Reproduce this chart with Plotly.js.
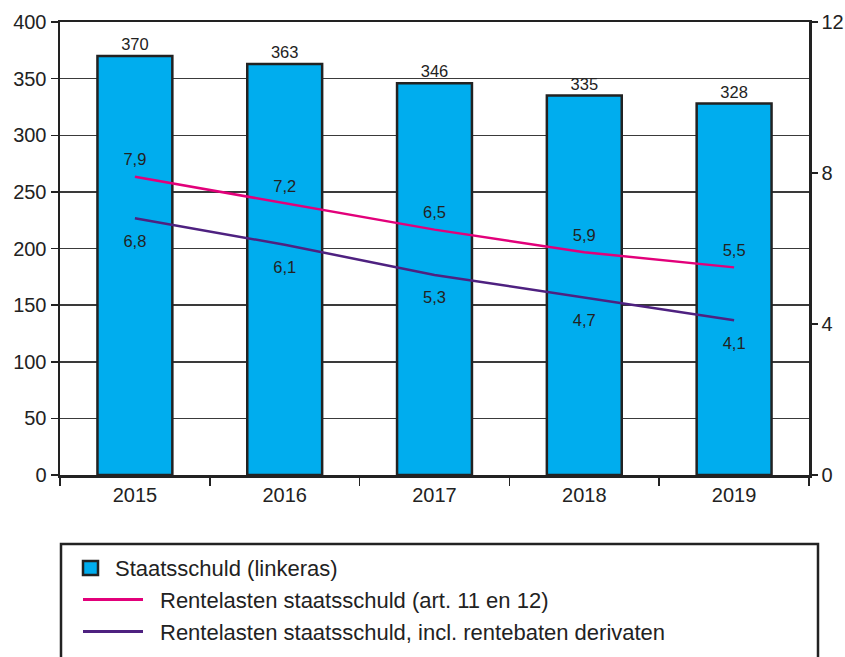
<!DOCTYPE html>
<html>
<head>
<meta charset="utf-8">
<script src="https://cdn.plot.ly/plotly-3.0.1.min.js"></script>
<style>
  html, body { margin: 0; padding: 0; background: #fff; }
  #chart { width: 845px; height: 657px; }
</style>
</head>
<body>
<div id="chart"></div>
<script>
// ---- data ----
const years = ['2015', '2016', '2017', '2018', '2019'];
const staatsschuld = [370, 363, 346, 335, 328];
const rentelasten = [7.9, 7.2, 6.5, 5.9, 5.5];
const rentelastenInclDerivaten = [6.8, 6.1, 5.3, 4.7, 4.1];
const seriesNames = [
  'Staatsschuld (linkeras)',
  'Rentelasten staatsschuld (art. 11 en 12)',
  'Rentelasten staatsschuld, incl. rentebaten derivaten'
];
const leftTicks = [0, 50, 100, 150, 200, 250, 300, 350, 400];
const rightTicks = [0, 4, 8, 12];

// ---- style ----
const FONT = 'Liberation Sans, Arial, Helvetica, sans-serif';
const INK = '#222222';
const CYAN = '#00ADEE';
const PINK = '#E2007A';
const PURPLE = '#4E2180';
const fmt = v => v.toFixed(1).replace('.', ',');

const traces = [
  {
    type: 'bar', name: seriesNames[0], x: years, y: staatsschuld,
    marker: { color: CYAN, line: { color: INK, width: 2.5 } },
    text: staatsschuld.map(String), textposition: 'outside',
    textfont: { family: FONT, size: 16.5, color: INK },
    cliponaxis: false, showlegend: false
  },
  {
    type: 'scatter', mode: 'lines+markers+text', name: seriesNames[1], x: years, y: rentelasten,
    yaxis: 'y2', line: { color: PINK, width: 2.5 },
    marker: { size: 10, color: 'rgba(0,0,0,0)' },
    text: rentelasten.map(fmt), textposition: 'top center',
    textfont: { family: FONT, size: 16.5, color: INK },
    cliponaxis: false, showlegend: false
  },
  {
    type: 'scatter', mode: 'lines+markers+text', name: seriesNames[2], x: years, y: rentelastenInclDerivaten,
    yaxis: 'y2', line: { color: PURPLE, width: 2.5 },
    marker: { size: 24, color: 'rgba(0,0,0,0)' },
    text: rentelastenInclDerivaten.map(fmt), textposition: 'bottom center',
    textfont: { family: FONT, size: 16.5, color: INK },
    cliponaxis: false, showlegend: false
  }
];

// custom legend box (paper coordinates; plot area spans 749 x 453 px)
const W = 749, H = 453;
const px = x => (x - 60) / W;
const py = y => (475 - y) / H;

const shapes = [
  { type: 'rect', xref: 'paper', yref: 'paper', x0: px(61), x1: px(818), y0: py(720), y1: py(544),
    line: { color: INK, width: 2.5 }, fillcolor: 'rgba(0,0,0,0)' },
  { type: 'rect', xref: 'paper', yref: 'paper', x0: px(83), x1: px(98), y0: py(575), y1: py(561),
    line: { color: INK, width: 2.5 }, fillcolor: CYAN },
  { type: 'line', xref: 'paper', yref: 'paper', x0: px(83), x1: px(143), y0: py(599.5), y1: py(599.5),
    line: { color: PINK, width: 3 } },
  { type: 'line', xref: 'paper', yref: 'paper', x0: px(83), x1: px(143), y0: py(631.5), y1: py(631.5),
    line: { color: PURPLE, width: 3 } }
];

const annotations = [
  { text: seriesNames[0], x: px(113), y: py(568) },
  { text: seriesNames[1], x: px(158), y: py(600.5) },
  { text: seriesNames[2], x: px(158), y: py(632.5) }
].map(a => ({
  text: a.text, xref: 'paper', yref: 'paper', x: a.x, y: a.y,
  xanchor: 'left', yanchor: 'middle', showarrow: false,
  font: { family: FONT, size: 22, color: INK }
}));

const layout = {
  width: 845, height: 657,
  margin: { l: 60, r: 36, t: 22, b: 182 },
  paper_bgcolor: '#ffffff', plot_bgcolor: '#ffffff',
  font: { family: FONT, size: 20, color: INK },
  showlegend: false,
  bargap: 0.5,
  xaxis: {
    type: 'category', range: [-0.5, 4.5],
    showline: true, linecolor: INK, linewidth: 2.5, mirror: true,
    ticks: 'outside', tickson: 'boundaries', ticklen: 8, tickcolor: INK, tickwidth: 1.5,
    tickfont: { family: FONT, size: 20, color: INK },
    showgrid: false, zeroline: false, fixedrange: true
  },
  yaxis: {
    range: [0, 400], tickvals: leftTicks,
    showline: true, linecolor: INK, linewidth: 2.5, mirror: true,
    ticks: 'outside', ticklen: 7, tickcolor: INK, tickwidth: 1.5,
    tickfont: { family: FONT, size: 20, color: INK },
    showgrid: true, gridcolor: '#3a3a3a', gridwidth: 1.5,
    zeroline: false, fixedrange: true
  },
  yaxis2: {
    overlaying: 'y', side: 'right', range: [0, 12], tickvals: rightTicks,
    showline: true, linecolor: INK, linewidth: 2.5,
    ticks: 'outside', ticklen: 6, tickcolor: INK, tickwidth: 1.5,
    tickfont: { family: FONT, size: 20, color: INK },
    showgrid: false, zeroline: false, fixedrange: true
  },
  shapes: shapes,
  annotations: annotations
};

Plotly.newPlot('chart', traces, layout, { staticPlot: true, displayModeBar: false });
</script>
</body>
</html>
